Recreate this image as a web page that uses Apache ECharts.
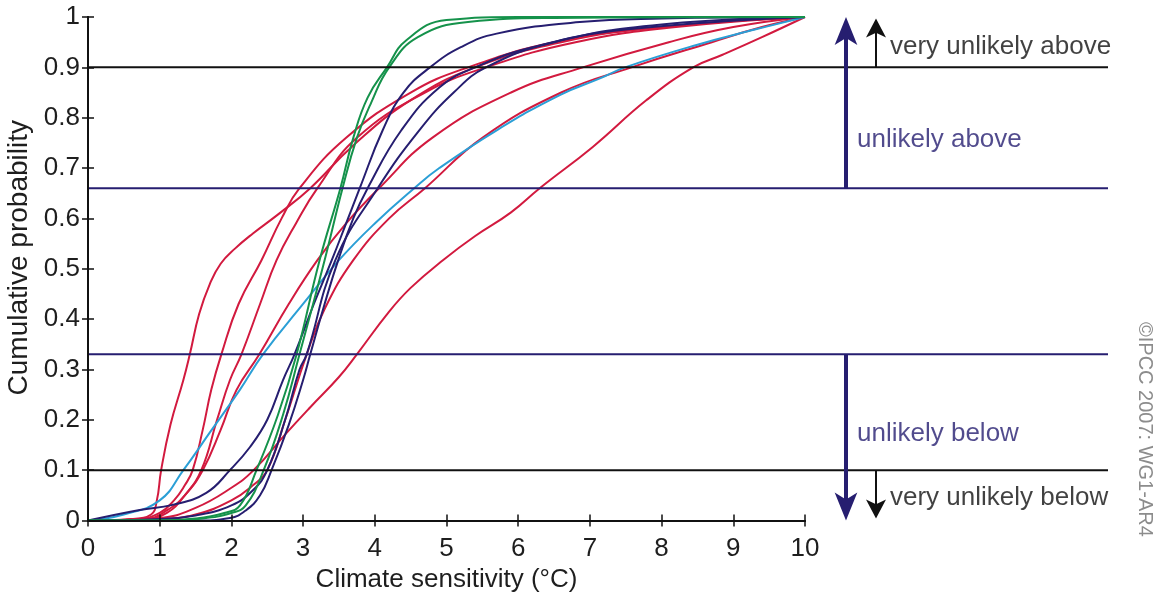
<!DOCTYPE html>
<html>
<head>
<meta charset="utf-8">
<script src="https://cdn.jsdelivr.net/npm/echarts@6/dist/echarts.min.js"></script>
<style>
html,body{margin:0;padding:0;background:#fff}
#chart{width:1162px;height:594px}
</style>
</head>
<body>
<div id="chart"></div>
<script>
// Cumulative distributions of climate sensitivity, points as [°C, probability]
const redA = [[0,0],[0.6,0.003],[0.88,0.012],[0.96,0.04],[1.02,0.1],[1.15,0.19],[1.33,0.279],[1.42,0.33],[1.55,0.41],[1.7,0.47],[1.85,0.51],[2.05,0.54],[2.3,0.57],[2.67,0.61],[3.1,0.66],[3.7,0.745],[4.5,0.835],[5.4,0.9],[6.6,0.95],[8,0.98],[10,1]];
const redB = [[0,0],[0.7,0.003],[1.0,0.015],[1.2,0.04],[1.35,0.07],[1.46,0.1],[1.6,0.18],[1.72,0.26],[1.86,0.33],[2.1,0.43],[2.42,0.517],[2.7,0.6],[2.95,0.66],[3.6,0.76],[4.5,0.85],[5.3,0.9],[6.5,0.95],[8,0.98],[10,1]];
const redC = [[0,0],[0.8,0.003],[1.1,0.015],[1.35,0.05],[1.58,0.1],[1.8,0.2],[1.98,0.279],[2.14,0.33],[2.4,0.43],[2.63,0.517],[2.9,0.59],[3.2,0.66],[3.75,0.76],[4.7,0.85],[5.55,0.9],[6.8,0.95],[8.2,0.98],[10,1]];
const redD = [[0,0],[0.8,0.003],[1.1,0.02],[1.35,0.05],[1.6,0.1],[1.85,0.18],[2.07,0.259],[2.39,0.33],[2.8,0.43],[3.2,0.517],[3.6,0.59],[4.06,0.66],[4.8,0.76],[5.9,0.85],[6.9,0.9],[8.1,0.95],[9,0.98],[10,1]];
const redE = [[0,0],[1.0,0.003],[1.5,0.012],[2.0,0.04],[2.3,0.07],[2.5,0.1],[2.75,0.2],[3.05,0.33],[3.3,0.42],[3.7,0.517],[4.2,0.6],[4.7,0.66],[5.5,0.76],[6.6,0.85],[7.58,0.9],[8.7,0.95],[9.4,0.98],[10,1]];
const redF = [[0,0],[1.0,0.005],[1.5,0.025],[2.0,0.065],[2.31,0.1],[2.77,0.174],[3.1,0.225],[3.5,0.285],[3.75,0.33],[4.2,0.415],[4.5,0.462],[4.95,0.517],[5.4,0.565],[5.9,0.612],[6.3,0.66],[7.04,0.742],[7.79,0.835],[8.44,0.9],[8.85,0.925],[9.4,0.96],[10,1]];
const navyA = [[0,0],[0.72,0.021],[1.18,0.031],[1.65,0.055],[1.98,0.1],[2.26,0.146],[2.5,0.2],[2.72,0.279],[2.88,0.33],[3.15,0.43],[3.4,0.517],[3.6,0.59],[3.79,0.66],[4.11,0.775],[4.4,0.85],[4.77,0.9],[5.2,0.94],[5.7,0.967],[6.86,0.99],[8,0.997],[10,1]];
const navyB = [[0,0],[1.5,0],[1.98,0.005],[2.2,0.02],[2.4,0.05],[2.56,0.1],[2.8,0.19],[3.0,0.279],[3.1,0.33],[3.3,0.43],[3.49,0.517],[3.7,0.6],[3.9,0.66],[4.37,0.775],[4.9,0.86],[5.4,0.9],[6.2,0.94],[7.5,0.975],[10,1]];
const navyC = [[0,0],[1.0,0.003],[1.5,0.01],[2.0,0.03],[2.3,0.06],[2.5,0.1],[2.75,0.2],[2.95,0.3],[3.05,0.33],[3.45,0.517],[4.04,0.66],[4.62,0.775],[5.1,0.85],[5.55,0.9],[6.5,0.95],[8,0.985],[10,1]];
const greenA = [[0,0],[1.0,0],[1.5,0.004],[1.9,0.015],[2.12,0.03],[2.35,0.1],[2.65,0.21],[2.91,0.33],[3.23,0.517],[3.52,0.66],[3.7,0.76],[3.9,0.84],[4.17,0.9],[4.44,0.954],[5.0,0.994],[6,1],[10,1]];
const greenB = [[0,0],[1.0,0],[1.6,0.004],[2.0,0.015],[2.2,0.03],[2.45,0.1],[2.72,0.21],[2.95,0.33],[3.3,0.517],[3.55,0.66],[3.75,0.76],[3.95,0.83],[4.2,0.9],[4.6,0.96],[5.3,0.99],[6.5,0.998],[10,1]];
const cyanA = [[0,0],[0.5,0.012],[1.0,0.04],[1.33,0.1],[1.7,0.175],[2.12,0.26],[2.44,0.33],[3.0,0.43],[3.5,0.517],[4.0,0.59],[4.55,0.66],[4.9,0.7],[5.7,0.775],[6.58,0.845],[7.14,0.878],[7.49,0.9],[8.5,0.945],[9.3,0.975],[10,1]];

// Likelihood thresholds and their annotations
const thresholdValues = [0.9, 0.66, 0.33, 0.1];
const xTickValues = [0,1,2,3,4,5,6,7,8,9,10];
const yTickValues = [0,0.1,0.2,0.3,0.4,0.5,0.6,0.7,0.8,0.9,1];
const annotationTexts = ['very unlikely above', 'unlikely above', 'unlikely below', 'very unlikely below'];
const annotationLevels = [0.941, 0.756, 0.173, 0.046];

const RED = '#d21a3f', NAVY = '#261e70', GREEN = '#15924b', CYAN = '#2b9fd6', BLACK = '#111';
const curveSets = [
  [redA, RED],[redB, RED],[redC, RED],[redD, RED],[redE, RED],[redF, RED],
  [cyanA, CYAN],[navyA, NAVY],[navyB, NAVY],[navyC, NAVY],[greenA, GREEN],[greenB, GREEN]
];

const GRID_LEFT = 88, GRID_TOP = 17, GRID_W = 717, GRID_H = 503.5, WIDE_W = 1020;
const pxPerX = GRID_W / 10, pxPerY = GRID_H;
const wideMax = WIDE_W / pxPerX;
const font = '"Liberation Sans", Arial, Helvetica, sans-serif';
const TEXT = '#1e1e1e';

const chart = echarts.init(document.getElementById('chart'), null, {renderer: 'canvas'});

const axisLine = {show: true, lineStyle: {color: BLACK, width: 2}};
const axisTick = {show: true, inside: true, length: 6, lineStyle: {color: BLACK, width: 1.5}};

const series = [];
curveSets.forEach(([pts, color]) => {
  series.push({
    type: 'line', xAxisIndex: 0, yAxisIndex: 0, data: pts,
    showSymbol: false, smooth: 0.45,
    lineStyle: {color: color, width: 2}, z: 3, silent: true, animation: false
  });
});

// threshold lines run past the plot, across the annotation column
thresholdValues.forEach((v, i) => {
  const c = (i === 0 || i === 3) ? BLACK : NAVY;
  series.push({
    type: 'line', xAxisIndex: 2, yAxisIndex: 2, data: [[0, v], [wideMax, v]],
    showSymbol: false, lineStyle: {color: c, width: 2}, z: 5, silent: true, animation: false
  });
});

// arrow = shaft from a level to just behind the head, head drawn with its tip on the target level
function arrow(x, from, tip, color, width, hw, hh) {
  const dir = tip > from ? 1 : -1;
  const shaftEnd = tip - dir * (hh * 0.6) / pxPerY;
  series.push({
    type: 'line', xAxisIndex: 2, yAxisIndex: 2,
    data: [[x, from], [x, shaftEnd]], showSymbol: false,
    lineStyle: {color: color, width: width}, z: 6, silent: true, animation: false
  });
  series.push({
    type: 'scatter', xAxisIndex: 2, yAxisIndex: 2,
    data: [[x, tip]], symbol: 'arrow', symbolSize: [hw, hh], symbolRotate: dir > 0 ? 0 : 180,
    itemStyle: {color: color, opacity: 1}, z: 6, silent: true, animation: false, clip: false
  });
}
const navyArrowX = (846 - GRID_LEFT) / pxPerX;
const blackArrowX = (876 - GRID_LEFT) / pxPerX;
arrow(navyArrowX, 0.66, 1.0, NAVY, 4, 17, 28);
arrow(navyArrowX, 0.33, 0.0, NAVY, 4, 17, 28);
arrow(blackArrowX, 0.9, 0.997, BLACK, 2, 15, 19);
arrow(blackArrowX, 0.099, 0.004, BLACK, 2, 15, 19);

// annotation text
const longTextX = (890 - GRID_LEFT) / pxPerX;
const shortTextX = (857 - GRID_LEFT) / pxPerX;
series.push({
  type: 'scatter', xAxisIndex: 2, yAxisIndex: 2, symbolSize: 0, silent: true, animation: false,
  data: annotationTexts.map((t, i) => ({
    value: [(i === 0 || i === 3) ? longTextX : shortTextX, annotationLevels[i]],
    label: {
      show: true, position: 'right', distance: 0, formatter: t,
      color: (i === 0 || i === 3) ? BLACK : NAVY,
      fontSize: 26, fontFamily: font
    }
  })),
  z: 7
});

chart.setOption({
  animation: false,
  backgroundColor: '#fff',
  grid: [
    {left: GRID_LEFT, top: GRID_TOP, width: GRID_W, height: GRID_H, containLabel: false, outerBoundsMode: 'none'},
    {left: GRID_LEFT, top: GRID_TOP, width: WIDE_W, height: GRID_H, containLabel: false, outerBoundsMode: 'none'}
  ],
  xAxis: [
    {type: 'value', gridIndex: 0, min: 0, max: 10, interval: 1, position: 'bottom',
     axisLine: axisLine, axisTick: axisTick, splitLine: {show: false},
     axisLabel: {fontSize: 26, color: TEXT, margin: 15, fontFamily: font,
                 formatter: v => xTickValues.includes(v) ? String(v) : ''},
     name: 'Climate sensitivity (°C)', nameLocation: 'middle', nameGap: 46,
     nameTextStyle: {fontSize: 26, color: TEXT, fontFamily: font}, z: 8},
    {type: 'value', gridIndex: 0, min: 0, max: 10, interval: 1, position: 'top',
     axisLine: axisLine, axisTick: axisTick, axisLabel: {show: false}, splitLine: {show: false}, z: 8},
    {type: 'value', gridIndex: 1, min: 0, max: wideMax, show: false}
  ],
  yAxis: [
    {type: 'value', gridIndex: 0, min: 0, max: 1, interval: 0.1, position: 'left',
     axisLine: axisLine, axisTick: axisTick, splitLine: {show: false},
     axisLabel: {fontSize: 26, color: TEXT, margin: 8, fontFamily: font,
                 formatter: v => {
                   const t = yTickValues.find(y => Math.abs(y - v) < 1e-6);
                   return t === undefined ? '' : (t === 0 || t === 1 ? String(t) : t.toFixed(1));
                 }},
     name: 'Cumulative probability', nameLocation: 'middle', nameGap: 51, nameRotate: 90,
     nameTextStyle: {fontSize: 28, color: TEXT, fontFamily: font, padding: [0, 0, 0, 22]}, z: 8},
    {type: 'value', gridIndex: 0, min: 0, max: 1, interval: 0.1, position: 'right',
     axisLine: axisLine, axisTick: axisTick, axisLabel: {show: false}, splitLine: {show: false}, z: 8},
    {type: 'value', gridIndex: 1, min: 0, max: 1, show: false}
  ],
  series: series,
  graphic: [{
    type: 'text', left: 1135, top: 322, rotation: -Math.PI / 2,
    style: {text: '©IPCC 2007: WG1-AR4', fill: '#8c8c8c', font: '20px ' + font}
  }]
});
</script>
</body>
</html>
